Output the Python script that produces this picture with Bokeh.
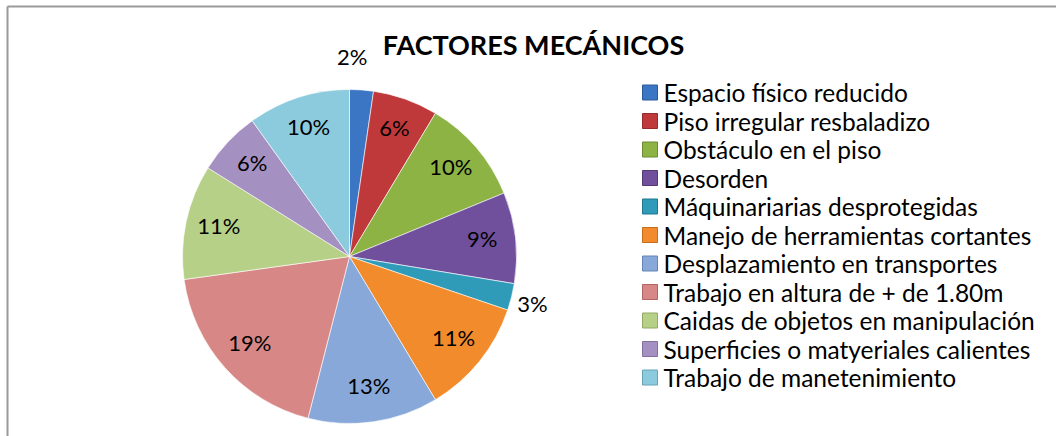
import math
from bokeh.plotting import figure
from bokeh.models import Range1d
from bokeh.core.properties import value
from bokeh.embed import file_html
from bokeh.resources import INLINE

title = "FACTORES MECÁNICOS"
categories = [
    "Espacio físico reducido",
    "Piso irregular resbaladizo",
    "Obstáculo en el piso",
    "Desorden",
    "Máquinariarias desprotegidas",
    "Manejo de herramientas cortantes",
    "Desplazamiento en transportes",
    "Trabajo en altura de + de 1.80m",
    "Caidas de objetos en manipulación",
    "Superficies o matyeriales calientes",
    "Trabajo de manetenimiento",
]
values = [2.3, 6.3, 10.2, 8.8, 2.6, 11.2, 12.6, 18.8, 11.1, 6.2, 9.9]
labels = ["2%", "6%", "10%", "9%", "3%", "11%", "13%", "19%", "11%", "6%", "10%"]
colors = ["#3b76c4", "#c0393a", "#8db344", "#704f9c", "#2f9bb9", "#f28b2c",
          "#87a8d8", "#d78886", "#b7d087", "#a590c2", "#8ccadd"]
edge_colors = ["#2a5a9c", "#962a2b", "#6d8c32", "#533a77", "#217790", "#c66c1c",
               "#6585b3", "#b06563", "#91a866", "#8270a0", "#68a4b6"]

W, H = 1056, 436
FONT = "Lato"

p = figure(width=W, height=H, output_backend="svg", toolbar_location=None,
           x_range=Range1d(0, W), y_range=Range1d(0, H),
           x_axis_location=None, y_axis_location=None, min_border=0,
           outline_line_color=None)
p.grid.visible = False
p.background_fill_color = "white"
p.border_fill_color = "white"

# frame lines (left and top) of the chart area
p.segment(x0=[7, 7], y0=[0, H - 6], x1=[7, W], y1=[H - 6, H - 6],
          line_color="#9a9a9a", line_width=2)

cx, cy, R = 349, 180, 167
total = sum(values)
starts, ends, mids = [], [], []
c = 0.0
for v in values:
    a0 = math.pi / 2 - 2 * math.pi * c / total
    c += v
    a1 = math.pi / 2 - 2 * math.pi * c / total
    starts.append(a0)
    ends.append(a1)
    mids.append((a0 + a1) / 2)

p.wedge(x=cx, y=cy, radius=R, start_angle=starts, end_angle=ends,
        direction="clock", fill_color=colors, line_color="#ffffff",
        line_alpha=0.6, line_width=1)

# data labels: inside for large slices, outside ("best fit") for small ones
lx, ly, la = [], [], []
for v, m in zip(values, mids):
    outside = v / total < 0.04
    if outside:
        x = cx + 1.06 * R * math.cos(m)
        y = cy + 1.06 * R * math.sin(m)
        if abs(math.cos(m)) < 0.3:
            align = "center"
            x -= 10
            y += 23
        else:
            align = "left" if math.cos(m) > 0 else "right"
            x -= 4
            y -= 4
    else:
        x = cx + 0.8 * R * math.cos(m)
        y = cy + 0.8 * R * math.sin(m) + 3
        align = "center"
    lx.append(x)
    ly.append(y)
    la.append(align)
p.text(x=lx, y=ly, text=labels, text_align=la, text_baseline="middle",
       text_font=value(FONT), text_font_size="22px", text_color="#000000")

# title
p.text(x=[533], y=[392], text=[title], text_align="center", text_baseline="middle",
       text_font=value(FONT), text_font_size="27px", text_font_style="bold",
       text_color="#000000")

# legend
leg_x, leg_y0, leg_dy = 649.5, 344, 28.5
ys = [leg_y0 - i * leg_dy for i in range(len(categories))]
p.rect(x=[leg_x] * len(categories), y=ys, width=15, height=15,
       fill_color=colors, line_color=edge_colors, line_width=1)
p.text(x=[663] * len(categories), y=ys, text=categories,
       text_align="left", text_baseline="middle", text_font=value(FONT),
       text_font_size="24.5px", text_color="#000000")

open("out.html", "w").write(file_html(p, INLINE))
